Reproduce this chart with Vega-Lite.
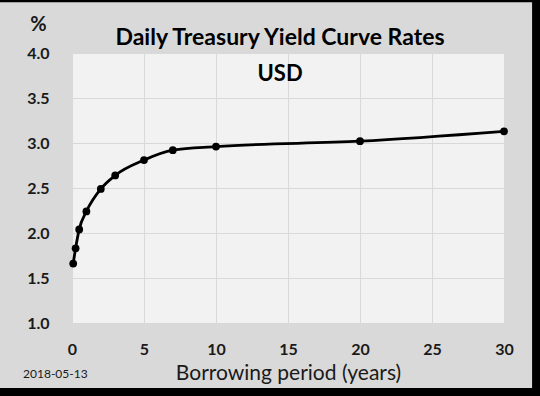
{
  "$schema": "https://vega.github.io/schema/vega-lite/v6.json",
  "width": 432,
  "height": 270,
  "autosize": {"type": "none"},
  "padding": {"left": 72, "top": 53, "right": 36, "bottom": 73},
  "background": "#d9d9d9",
  "title": {
    "text": "Daily Treasury Yield Curve Rates",
    "font": "Lato",
    "fontSize": 23,
    "fontWeight": "bold",
    "color": "#000000",
    "anchor": "middle",
    "dx": -8,
    "offset": -60
  },
  "config": {
    "view": {"fill": "#f2f2f2", "stroke": null},
    "font": "Lato"
  },
  "layer": [
    {
      "data": {"values": [{}]},
      "mark": {"type": "rect", "color": "#000000"},
      "encoding": {
        "x": {"datum": -5.3, "type": "quantitative", "scale": {"domain": [0, 30], "nice": false}},
        "x2": {"datum": 32.6},
        "y": {"datum": 4.7, "type": "quantitative", "scale": {"domain": [1, 4], "nice": false, "zero": false}},
        "y2": {"datum": 4.565}
      }
    },
    {
      "data": {"values": [{}]},
      "mark": {"type": "rect", "color": "#000000"},
      "encoding": {
        "x": {"datum": 31.95, "type": "quantitative"},
        "x2": {"datum": 32.6},
        "y": {"datum": 4.7, "type": "quantitative"},
        "y2": {"datum": 0.1}
      }
    },
    {
      "data": {"values": [{}]},
      "mark": {"type": "rect", "color": "#000000"},
      "encoding": {
        "x": {"datum": -5.3, "type": "quantitative"},
        "x2": {"datum": 32.6},
        "y": {"datum": 0.278, "type": "quantitative"},
        "y2": {"datum": 0.1}
      }
    },
    {
      "data": {
        "values": [
          {"years": 0.083, "rate": 1.66},
          {"years": 0.25, "rate": 1.83},
          {"years": 0.5, "rate": 2.04},
          {"years": 1, "rate": 2.24},
          {"years": 2, "rate": 2.49},
          {"years": 3, "rate": 2.64},
          {"years": 5, "rate": 2.81},
          {"years": 7, "rate": 2.92},
          {"years": 10, "rate": 2.96},
          {"years": 20, "rate": 3.02},
          {"years": 30, "rate": 3.13}
        ]
      },
      "mark": {
        "type": "line",
        "interpolate": "monotone",
        "color": "#000000",
        "strokeWidth": 2.8,
        "point": {"filled": true, "size": 60, "color": "#000000"}
      },
      "encoding": {
        "x": {
          "field": "years",
          "type": "quantitative",
          "scale": {"domain": [0, 30], "nice": false},
          "axis": {
            "values": [0, 5, 10, 15, 20, 25, 30],
            "grid": true,
            "gridColor": "#d9d9d9",
            "domain": false,
            "ticks": false,
            "labelFont": "Lato",
            "labelFontSize": 16,
            "labelFontWeight": "bold",
            "labelColor": "#1a1a1a",
            "labelPadding": 18,
            "labelFlush": false,
            "title": "Borrowing period (years)",
            "titleFont": "Lato",
            "titleFontSize": 21,
            "titleFontWeight": "normal",
            "titleColor": "#1a1a1a",
            "titlePadding": 5
          }
        },
        "y": {
          "field": "rate",
          "type": "quantitative",
          "scale": {"domain": [1, 4], "nice": false, "zero": false},
          "axis": {
            "values": [1, 1.5, 2, 2.5, 3, 3.5, 4],
            "format": ".1f",
            "grid": true,
            "gridColor": "#d9d9d9",
            "domain": false,
            "ticks": false,
            "labelFont": "Lato",
            "labelFontSize": 16,
            "labelFontWeight": "bold",
            "labelColor": "#1a1a1a",
            "labelPadding": 23,
            "title": "%",
            "titleFont": "Lato",
            "titleFontSize": 20,
            "titleFontWeight": "bold",
            "titleColor": "#1a1a1a",
            "titleAngle": 0,
            "titleAlign": "center",
            "titleBaseline": "alphabetic",
            "titleX": -34,
            "titleY": -23
          }
        }
      }
    },
    {
      "data": {"values": [{}]},
      "mark": {"type": "text", "text": "USD", "font": "Lato", "fontSize": 22, "fontWeight": "bold", "color": "#000000", "align": "center", "baseline": "alphabetic"},
      "encoding": {
        "x": {"datum": 14.45, "type": "quantitative"},
        "y": {"datum": 3.69, "type": "quantitative"}
      }
    },
    {
      "data": {"values": [{}]},
      "mark": {"type": "text", "text": "2018-05-13", "font": "Lato", "fontSize": 12, "color": "#1a1a1a", "align": "left", "baseline": "alphabetic"},
      "encoding": {
        "x": {"datum": -3.4, "type": "quantitative"},
        "y": {"datum": 0.389, "type": "quantitative"}
      }
    }
  ]
}
